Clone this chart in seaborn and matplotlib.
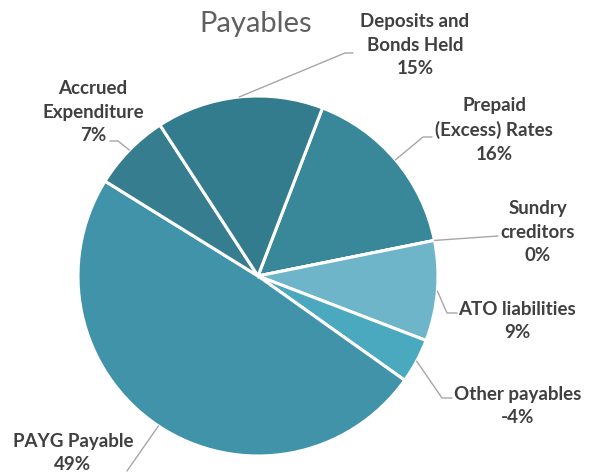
import numpy as np
import matplotlib
matplotlib.use("Agg")
import matplotlib.pyplot as plt
import seaborn as sns

# ---- data ----
categories = ["Prepaid\n(Excess) Rates", "Sundry\ncreditors", "ATO liabilities",
              "Other payables", "PAYG Payable", "Accrued\nExpenditure",
              "Deposits and\nBonds Held"]
values = [16, 0, 9, -4, 49, 7, 15]
colors = ["#38889a", "#3d8ea2", "#6fb5ca", "#4aa8bf", "#4193aa", "#367e8f", "#337c8e"]
title = "Payables"

# ---- layout (pixel coordinates of label block centres and leader elbows) ----
W, H = 598, 474
label_pos = [(494, 130), (538, 232), (517, 321), (518, 406), (73, 453), (93, 112), (415, 45)]
elbows = [[(423, 137), (432, 137)],
          [(498, 236)],
          [(447, 313), (457, 313)],
          [(442, 398), (452, 398)],
          [(127, 471)],
          [(118, 141), (110, 141)],
          [(345, 53), (353, 53)]]

sns.set_theme(style="white")
plt.rcParams["font.family"] = ["Lato", "DejaVu Sans"]

fig = plt.figure(figsize=(W / 100, H / 100), dpi=100)
ax = fig.add_axes([0, 0, 1, 1])
ax.set_xlim(0, W)
ax.set_ylim(0, H)
ax.set_aspect("equal")
ax.axis("off")

cx, cy, r = 258, H - 276, 180
sizes = np.abs(values)
wedges, _ = ax.pie(sizes, colors=colors, startangle=69, counterclock=False,
                   center=(cx, cy), radius=r, frame=True,
                   wedgeprops=dict(edgecolor="white", linewidth=2.2))
ax.set_xlim(0, W)
ax.set_ylim(0, H)
ax.axis("off")

total = sizes.sum()
for w, cat, v, (lx, ly), elb in zip(wedges, categories, values, label_pos, elbows):
    pct = f"{round(100 * v / total):d}%"
    ax.text(lx, H - ly, f"{cat}\n{pct}", ha="center", va="center",
            fontsize=13.5, fontweight="bold", color="#404040", linespacing=1.45)
    th = np.deg2rad((w.theta1 + w.theta2) / 2)
    px, py = cx + r * np.cos(th), cy + r * np.sin(th)
    xs = [px] + [e[0] for e in elb]
    ys = [py] + [H - e[1] for e in elb]
    ax.plot(xs, ys, color="#a6a6a6", lw=1.0)

ax.text(256, H - 24, title, ha="center", va="center", fontsize=21,
        fontweight="normal", color="#606060")

fig.savefig("out.png", dpi=100)
